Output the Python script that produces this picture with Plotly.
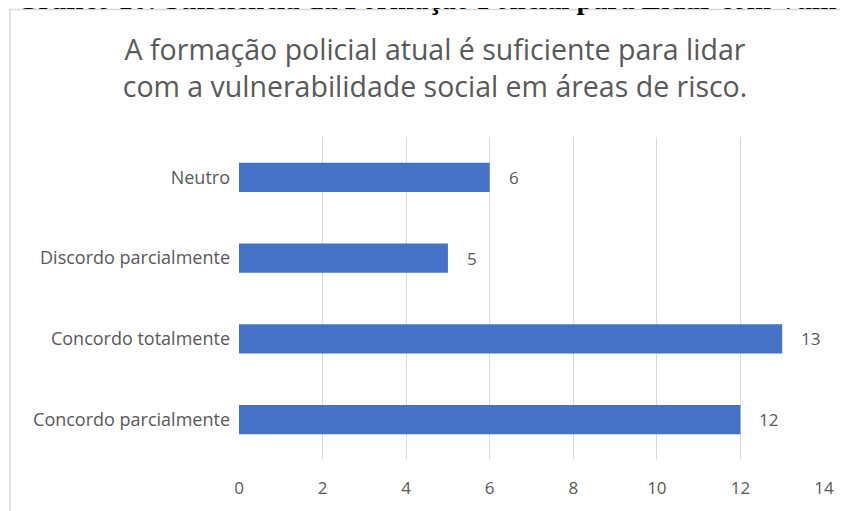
# Horizontal bar chart: A formação policial atual é suficiente...

import plotly.graph_objects as go

# categories listed top to bottom as they appear
categorias = ["Neutro", "Discordo parcialmente", "Concordo totalmente", "Concordo parcialmente"]
respostas = [6, 5, 13, 12]
ticks_x = [0, 2, 4, 6, 8, 10, 12, 14]

titulo = "A formação policial atual é suficiente para lidar<br>com a vulnerabilidade social em áreas de risco."
legenda_topo = "Gráfico 10: Suficiência da Formação Policial para Lidar com Vulnerabilidade Social"

# the page body adds an 8px offset, so the figure is 8px smaller
OFF = 8
W, H = 848 - OFF, 511 - OFF
L, R, T, B = 239 - OFF, 24, 137 - OFF, 47
pw, ph = W - L - R, H - T - B


def px_x(x):
    # page pixel -> paper x
    return (x - OFF - L) / pw


def px_y(y):
    # page pixel -> paper y
    return (H - B - (y - OFF)) / ph


gray = "#595959"
font = "Open Sans"

fig = go.Figure()
fig.add_trace(go.Bar(
    x=respostas,
    y=categorias,
    orientation="h",
    marker=dict(color="#4472C4", line=dict(width=0)),
    width=0.36,
    hoverinfo="x+y",
))

# data labels next to the bar ends
for cat, val in zip(categorias, respostas):
    fig.add_annotation(
        x=val, y=cat, text=str(val), showarrow=False,
        xanchor="left", xshift=17,
        font=dict(family=font, size=17, color=gray),
    )

# chart border (Excel style box)
fig.add_shape(
    type="rect", xref="paper", yref="paper",
    x0=px_x(10), x1=px_x(870), y0=px_y(530), y1=px_y(8),
    line=dict(color="#d9d9d9", width=1.5), fillcolor="rgba(0,0,0,0)",
    layer="below",
)

# caption of the document, cut at the top
fig.add_annotation(
    xref="paper", yref="paper", x=px_x(14), y=px_y(16),
    xanchor="left", yanchor="bottom", showarrow=False,
    text="<b>" + legenda_topo + "</b>",
    font=dict(family="Liberation Serif", size=29, color="black"),
)

fig.update_layout(
    width=W, height=H,
    margin=dict(l=L, r=R, t=T, b=B),
    paper_bgcolor="white",
    plot_bgcolor="white",
    showlegend=False,
    title=dict(
        text=titulo, xref="container", x=(435 - OFF) / W, xanchor="center",
        yref="container", y=1 - (60 - OFF) / H, yanchor="middle",
        font=dict(family=font, size=28.5, color=gray),
    ),
    xaxis=dict(
        range=[0, 14], tickvals=ticks_x,
        showgrid=True, gridcolor="#d9d9d9", gridwidth=1.3,
        zeroline=False, showline=False,
        tickfont=dict(family=font, size=17, color=gray),
        ticklabelstandoff=16,
    ),
    yaxis=dict(
        autorange="reversed",
        showgrid=False, zeroline=False, showline=False,
        tickfont=dict(family=font, size=18, color=gray),
        ticklabelstandoff=8,
    ),
)

fig.write_html("out.html")
